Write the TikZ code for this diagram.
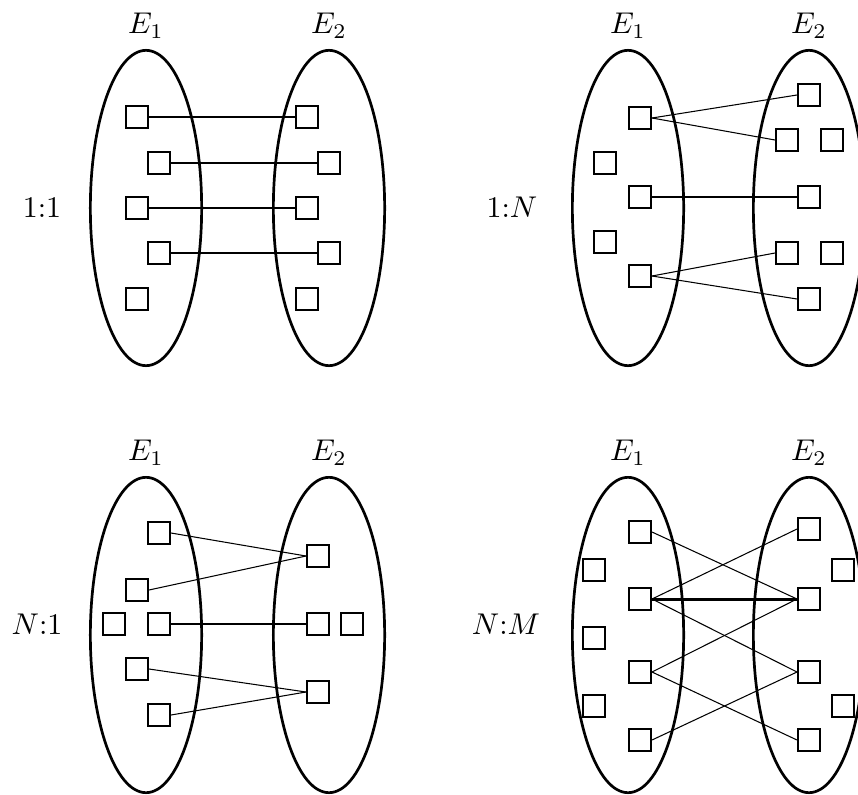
\documentclass[tikz,border=0pt]{standalone}
\usepackage{amsmath}
\usetikzlibrary{positioning,shapes.geometric}

\begin{document}
\begin{tikzpicture}[x=0.3333pt,y=-0.3333pt,
  entset/.style={draw,ellipse,line width=0.9pt,minimum width=37.1pt,minimum height=105.1pt,inner sep=0pt},
  elem/.style={draw,rectangle,line width=0.8pt,minimum size=7.2pt,inner sep=0pt},
  link/.style={line width=0.55pt},
  fan/.style={line width=0.35pt},
  heavy/.style={line width=1pt}]
\useasboundingbox (0,0) rectangle (858,794);
\clip (0,0) rectangle (858,794);

%---------------------1:1------------------%
\node[entset] (oneE1) at (146,208) {};
\node[entset] (oneE2) at (329,208) {};
\node[above=0pt of oneE1] (oneL1) {$E_1$};
\node[above=0pt of oneE2] (oneL2) {$E_2$};
\node (oneR) at (42,208) {1:1};
\node[elem] (a1) at (137,117) {};
\node[elem] (a2) at (159,163) {};
\node[elem] (a3) at (137,208) {};
\node[elem] (a4) at (159,253) {};
\node[elem] (a5) at (137,299) {};
\node[elem] (b1) at (307,117) {};
\node[elem] (b2) at (329,163) {};
\node[elem] (b3) at (307,208) {};
\node[elem] (b4) at (329,253) {};
\node[elem] (b5) at (307,299) {};
\draw[link] (a1.east) -- (b1.west);
\draw[link] (a2.east) -- (b2.west);
\draw[link] (a3.east) -- (b3.west);
\draw[link] (a4.east) -- (b4.west);
%--------------------------------------------------------%

%---------------------1:N------------------%
\node[entset] (oneNE1) at (628,208) {};
\node[entset] (oneNE2) at (809,208) {};
\node[above=0pt of oneNE1] (oneNL1) {$E_1$};
\node[above=0pt of oneNE2] (oneNL2) {$E_2$};
\node (oneNR) at (512,207) {1:$N$};
\node[elem] (c1) at (640,118) {};
\node[elem] (c2) at (605,163) {};
\node[elem] (c3) at (640,197) {};
\node[elem] (c4) at (605,242) {};
\node[elem] (c5) at (640,276) {};
\node[elem] (d1) at (809,95) {};
\node[elem] (d2) at (787,140) {};
\node[elem] (d3) at (832,140) {};
\node[elem] (d4) at (809,197) {};
\node[elem] (d5) at (787,253) {};
\node[elem] (d6) at (832,253) {};
\node[elem] (d7) at (809,299) {};
\draw[fan] (c1.east) -- (d1.west);
\draw[fan] (c1.east) -- (d2.west);
\draw[link] (c3.east) -- (d4.west);
\draw[fan] (c5.east) -- (d5.west);
\draw[fan] (c5.east) -- (d7.west);
%--------------------------------------------------------%

%---------------------N:1------------------%
\node[entset] (nOneE1) at (146,635) {};
\node[entset] (nOneE2) at (329,635) {};
\node[above=0pt of nOneE1] (nOneL1) {$E_1$};
\node[above=0pt of nOneE2] (nOneL2) {$E_2$};
\node (nOneR) at (37,624) {$N$:1};
\node[elem] (f1) at (159,533) {};
\node[elem] (f2) at (137,590) {};
\node[elem] (f3) at (114,624) {};
\node[elem] (f4) at (159,624) {};
\node[elem] (f5) at (137,669) {};
\node[elem] (f6) at (159,715) {};
\node[elem] (g1) at (318,556) {};
\node[elem] (g2) at (318,624) {};
\node[elem] (g3) at (352,624) {};
\node[elem] (g4) at (318,692) {};
\draw[fan] (f1.east) -- (g1.west);
\draw[fan] (f2.east) -- (g1.west);
\draw[link] (f4.east) -- (g2.west);
\draw[fan] (f5.east) -- (g4.west);
\draw[fan] (f6.east) -- (g4.west);
%--------------------------------------------------------%

%---------------------N:M------------------%
\node[entset] (nME1) at (628,635) {};
\node[entset] (nME2) at (809,635) {};
\node[above=0pt of nME1] (nML1) {$E_1$};
\node[above=0pt of nME2] (nML2) {$E_2$};
\node (nMR) at (506,624) {$N$:$M$};
\node[elem] (h1) at (640,532) {};
\node[elem] (h2) at (594,570) {};
\node[elem] (h3) at (640,599) {};
\node[elem] (h4) at (594,638) {};
\node[elem] (h5) at (640,672) {};
\node[elem] (h6) at (594,706) {};
\node[elem] (h7) at (640,740) {};
\node[elem] (k1) at (809,529) {};
\node[elem] (k2) at (843,570) {};
\node[elem] (k3) at (809,599) {};
\node[elem] (k4) at (809,672) {};
\node[elem] (k5) at (843,706) {};
\node[elem] (k6) at (809,740) {};
\draw[fan] (h1.east) -- (k3.west);
\draw[fan] (h3.east) -- (k1.west);
\draw[heavy] (h3.east) -- (k3.west);
\draw[fan] (h3.east) -- (k4.west);
\draw[fan] (h5.east) -- (k3.west);
\draw[fan] (h5.east) -- (k6.west);
\draw[fan] (h7.east) -- (k4.west);
%--------------------------------------------------------%
\end{tikzpicture}
\end{document}
